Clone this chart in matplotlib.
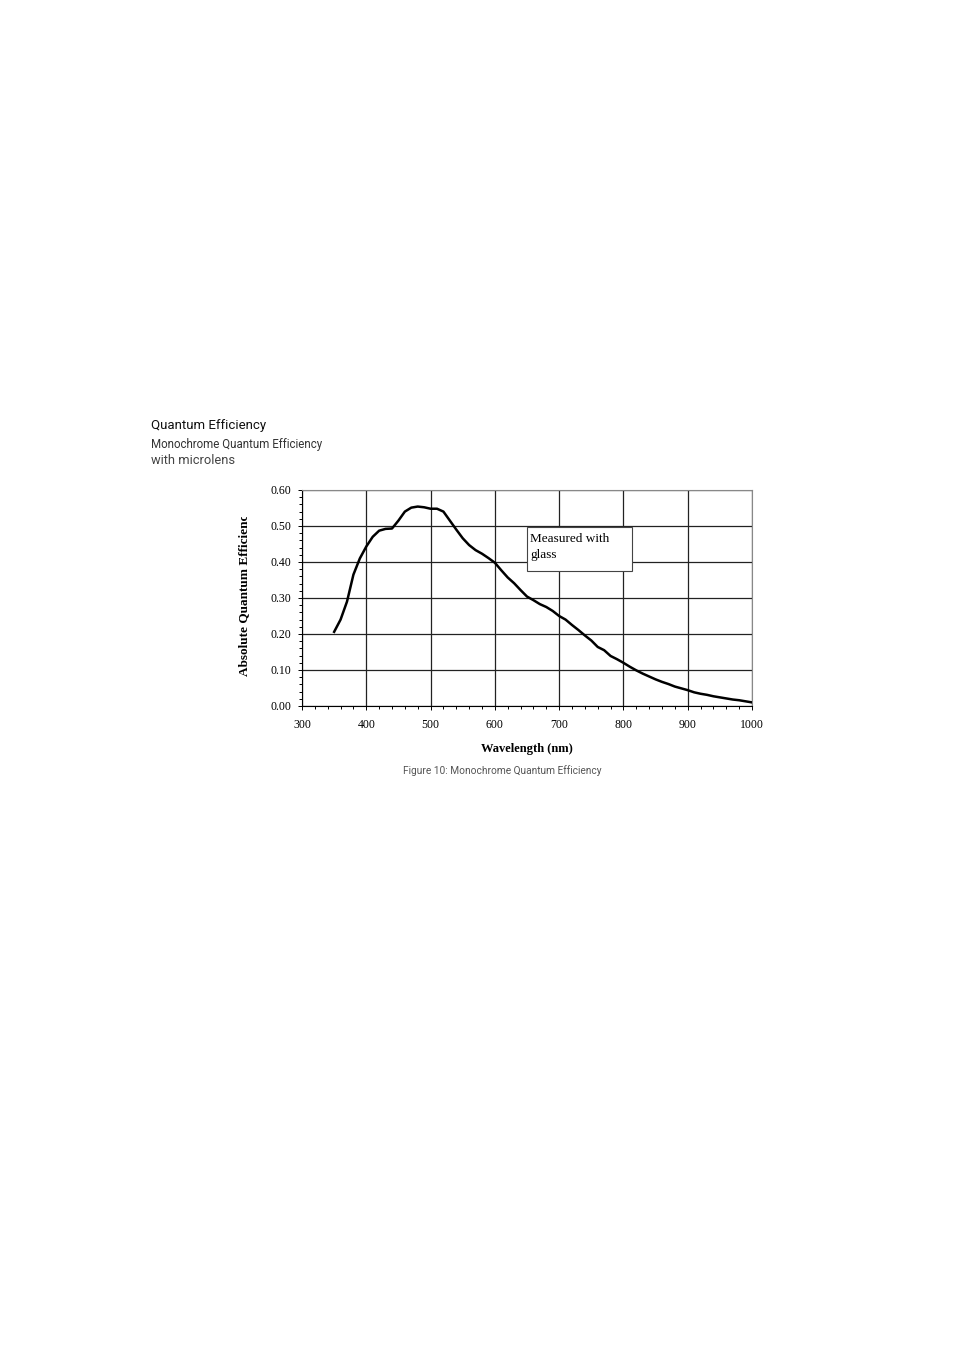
import numpy as np
import matplotlib
matplotlib.use("Agg")
import matplotlib.pyplot as plt
from matplotlib.ticker import MultipleLocator, FormatStrFormatter
from matplotlib.transforms import Bbox, TransformedBbox
from matplotlib.patches import Rectangle

# wavelength (nm) and absolute QE
wavelength = [350, 360, 370, 380, 390, 400, 410, 420, 430, 440,
              450, 460, 470, 480, 490, 500, 510, 520, 530, 540,
              550, 560, 570, 580, 590, 600, 610, 620, 630, 640,
              650, 660, 670, 680, 690, 700, 710, 720, 730, 740,
              750, 760, 770, 780, 790, 800, 810, 820, 830, 840,
              850, 860, 870, 880, 890, 900, 910, 920, 930, 940,
              950, 960, 970, 980, 990, 1000]
qe = [0.206, 0.240, 0.290, 0.365, 0.410, 0.443, 0.470, 0.487, 0.492, 0.493,
      0.515, 0.540, 0.551, 0.554, 0.552, 0.548, 0.548, 0.540, 0.515, 0.490,
      0.466, 0.447, 0.433, 0.423, 0.411, 0.398, 0.377, 0.357, 0.341, 0.322,
      0.304, 0.294, 0.283, 0.275, 0.264, 0.250, 0.240, 0.225, 0.211, 0.196,
      0.182, 0.164, 0.155, 0.139, 0.130, 0.120, 0.109, 0.099, 0.090, 0.082,
      0.074, 0.067, 0.061, 0.054, 0.049, 0.044, 0.038, 0.034, 0.031, 0.027,
      0.024, 0.021, 0.018, 0.016, 0.013, 0.010]

note = "Measured with\nglass"
serif = "Liberation Serif"

fig = plt.figure(figsize=(9.54, 13.51), dpi=100)
W, H = 954, 1351

# axes placed in pixels of the page
ax = fig.add_axes([302 / W, 1 - 706 / H, 450 / W, 216 / H])
ax.plot(wavelength, qe, color="black", lw=1.8, zorder=3)

ax.set_xlim(300, 1000)
ax.set_ylim(0, 0.6)
ax.xaxis.set_major_locator(MultipleLocator(100))
ax.xaxis.set_minor_locator(MultipleLocator(20))
ax.yaxis.set_major_locator(MultipleLocator(0.1))
ax.yaxis.set_minor_locator(MultipleLocator(0.02))
ax.yaxis.set_major_formatter(FormatStrFormatter("%.2f"))
ax.grid(True, which="major", color="#222222", lw=0.9)
ax.tick_params(which="both", direction="out", length=3, width=0.7, colors="black",
               labelsize=8.5)
ax.tick_params(axis="x", pad=6)
ax.tick_params(axis="y", pad=5)
ax.tick_params(which="minor", length=2)
for lab in ax.get_xticklabels() + ax.get_yticklabels():
    lab.set_family(serif)
for s in ["top", "right"]:
    ax.spines[s].set_color("#888888")
    ax.spines[s].set_linewidth(0.8)
for s in ["left", "bottom"]:
    ax.spines[s].set_color("black")
    ax.spines[s].set_linewidth(0.8)

# note box
ax.add_patch(Rectangle((650, 0.375), 163, 0.122, fc="white", ec="#444444", lw=0.8, zorder=4))
ax.text(655, 0.480, note, family=serif, fontsize=9.5, va="top", ha="left",
        linespacing=1.45, zorder=5)

ax.set_xlabel("Wavelength (nm)", family=serif, fontsize=9, fontweight="bold", labelpad=9)

# y label, cut off at the top like the source
yl = fig.text(245 / W, 1 - 676 / H, "Absolute Quantum Efficiency", family=serif,
              fontsize=9.5, fontweight="bold", rotation=90, ha="center", va="bottom")
yl.set_clip_box(TransformedBbox(Bbox([[0, 0], [1, 1 - 517 / H]]), fig.transFigure))
yl.set_clip_on(True)

fig.text(151 / W, 1 - 425 / H, "Quantum Efficiency", family="Roboto", fontsize=9.5,
         color="#111111", va="center")
fig.text(151 / W, 1 - 445 / H, "Monochrome Quantum Efficiency", family="Roboto",
         fontsize=8.3, color="#333333", va="center")
fig.text(151 / W, 1 - 461 / H, "with microlens", family="Roboto", fontsize=9.3,
         color="#444444", va="center")
fig.text(502 / W, 1 - 771 / H, "Figure 10: Monochrome Quantum Efficiency", family="Roboto",
         fontsize=7.3, color="#555555", ha="center", va="center")

fig.savefig("out.png", dpi=100, facecolor="white")
